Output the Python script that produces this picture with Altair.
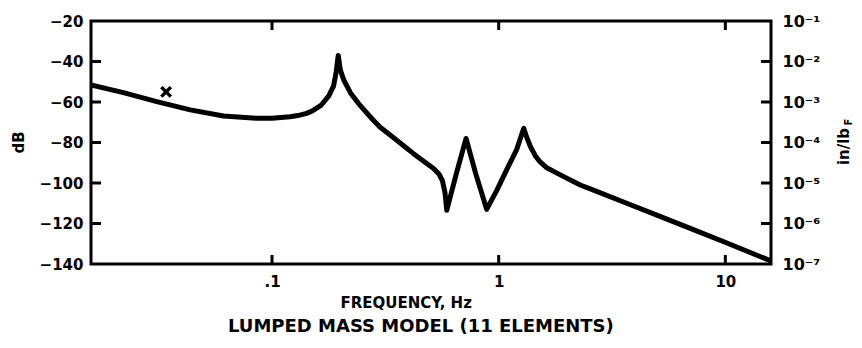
import altair as alt
import pandas as pd

# ---- data ----
freq_hz = [0.0159, 0.0221, 0.0310, 0.0436, 0.0611, 0.0857, 0.100, 0.120, 0.130, 0.142,
           0.150, 0.165, 0.178, 0.187, 0.192, 0.196, 0.200, 0.207, 0.222, 0.240,
           0.260, 0.280, 0.300, 0.332, 0.370, 0.421, 0.470, 0.516, 0.545, 0.565,
           0.580, 0.590, 0.650, 0.718, 0.790, 0.885, 0.982, 1.084, 1.20, 1.29,
           1.33, 1.38, 1.45, 1.52, 1.63, 1.87, 2.29, 2.62, 3.67, 5.15,
           7.23, 10.1, 15.9]
response_db = [-51.6, -55.4, -59.8, -63.9, -66.9, -68.0, -68.0, -67.3, -66.7, -65.6,
               -64.5, -61.5, -57.0, -52.0, -45.0, -37.0, -44.0, -49.0, -55.5, -60.5,
               -65.0, -69.0, -72.5, -76.3, -80.5, -85.5, -89.5, -92.8, -95.5, -99.0,
               -105.0, -113.5, -95.5, -78.0, -95.0, -113.0, -103.5, -93.5, -83.5, -73.0,
               -77.5, -82.0, -86.5, -89.5, -92.5, -96.0, -101.0, -103.5, -110.0, -116.5,
               -123.0, -129.5, -138.5]
marker_hz = [0.0341]
marker_db = [-55.0]
x_ticks = [0.1, 1, 10]
y_ticks = [-20, -40, -60, -80, -100, -120, -140]
inner_y_ticks = [-40, -60, -80, -100, -120]
x_domain = [0.0159, 15.9]
y_domain = [-140, -20]
x_title = "FREQUENCY, Hz"
bottom_title = "LUMPED MASS MODEL (11 ELEMENTS)"
left_title = "dB"
right_title = "in/lb"
right_sub = "F"

W, H = 680, 243
FONT = "DejaVu Sans"

curve = pd.DataFrame({"f": freq_hz, "db": response_db})
mark_df = pd.DataFrame({"f": marker_hz, "db": marker_db})
xt = pd.DataFrame({"f": x_ticks})
yt = pd.DataFrame({"db": inner_y_ticks})

xscale = alt.Scale(type="log", domain=x_domain, nice=False)
yscale = alt.Scale(domain=y_domain, nice=False, zero=False)

x_axis = alt.Axis(values=x_ticks, labelExpr="datum.value == 0.1 ? '.1' : datum.label",
                  domain=False, ticks=False, grid=False, labelFont=FONT, labelFontSize=15,
                  labelFontWeight="bold", labelColor="black", labelPadding=10,
                  title=x_title, titleFont=FONT, titleFontSize=15, titleFontWeight="bold",
                  titleColor="black", titleX=249, titleY=31, titleAlign="left",
                  titleBaseline="top")
y_axis = alt.Axis(values=y_ticks, domain=False, ticks=False, grid=False, labelFont=FONT,
                  labelFontSize=15, labelFontWeight="bold", labelColor="black",
                  labelPadding=8, title=left_title, titleFont=FONT, titleFontSize=15,
                  titleFontWeight="bold", titleColor="black", titleAngle=270,
                  titleX=-73, titleY=121, titleAlign="center", titleBaseline="middle")
y_axis_r = alt.Axis(values=y_ticks, orient="right", domain=False, ticks=False, grid=False,
                    labelExpr="'10\u207b' + ['\u2070','\u00b9','\u00b2','\u00b3','\u2074','\u2075','\u2076','\u2077'][-datum.value/20]",
                    labelFont=FONT, labelFontSize=16, labelFontWeight="bold",
                    labelColor="black", labelPadding=11, title=right_title, titleFont=FONT,
                    titleFontSize=15, titleFontWeight="bold", titleColor="black",
                    titleAngle=270, titleX=72, titleY=125, titleAlign="center",
                    titleBaseline="middle")

line = alt.Chart(curve).mark_line(color="black", strokeWidth=5, strokeJoin="round",
                                  strokeCap="round", clip=True).encode(
    x=alt.X("f:Q", scale=xscale, axis=x_axis),
    y=alt.Y("db:Q", scale=yscale, axis=y_axis),
)

xmark = alt.Chart(mark_df).mark_point(shape="M-1,-1L1,1M1,-1L-1,1", size=90, filled=False,
                                       color="black", opacity=1, strokeWidth=3.5).encode(
    x=alt.X("f:Q", scale=xscale, axis=x_axis),
    y=alt.Y("db:Q", scale=yscale, axis=y_axis_r),
)

tick_style = dict(color="black", strokeWidth=3)
lt = alt.Chart(yt).mark_rule(**tick_style).encode(
    y=alt.Y("db:Q", scale=yscale, axis=None), x=alt.value(0), x2=alt.value(10))
rt = alt.Chart(yt).mark_rule(**tick_style).encode(
    y=alt.Y("db:Q", scale=yscale, axis=None), x=alt.value(W - 10), x2=alt.value(W))
bt = alt.Chart(xt).mark_rule(**tick_style).encode(
    x=alt.X("f:Q", scale=xscale, axis=x_axis), y=alt.value(H - 9), y2=alt.value(H))
tt = alt.Chart(xt).mark_rule(**tick_style).encode(
    x=alt.X("f:Q", scale=xscale, axis=x_axis), y=alt.value(0), y2=alt.value(9))

sub = alt.Chart(pd.DataFrame({"t": [bottom_title]})).mark_text(
    font=FONT, fontSize=18, fontWeight="bold", color="black", baseline="top",
    align="left").encode(text="t:N", x=alt.value(137), y=alt.value(297))
fsub = alt.Chart(pd.DataFrame({"t": [right_sub]})).mark_text(
    font=FONT, fontSize=10, fontWeight="bold", color="black", angle=270,
    align="center", baseline="middle").encode(text="t:N", x=alt.value(W + 78), y=alt.value(101))

chart = alt.layer(line, xmark, lt, rt, bt, tt, sub, fsub).resolve_scale(
    y="independent"
).properties(
    width=W, height=H,
    autosize=alt.AutoSizeParams(type="none"),
    padding={"left": 91, "top": 21, "right": 91, "bottom": 84},
    background="white",
).configure_view(stroke="black", strokeWidth=3)

chart.save("out.html", embed_options={"renderer": "svg", "actions": False})
